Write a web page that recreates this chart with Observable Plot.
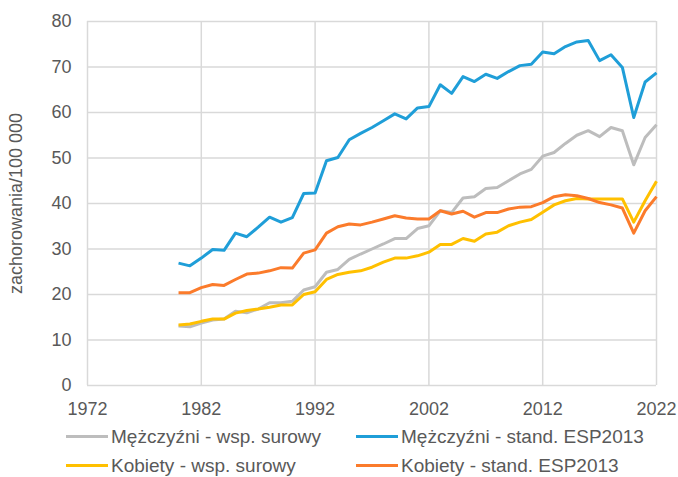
<!DOCTYPE html>
<html>
<head>
<meta charset="utf-8">
<script src="https://cdn.jsdelivr.net/npm/d3@7"></script>
<script src="https://cdn.jsdelivr.net/npm/@observablehq/plot@0.6"></script>
<style>
  html, body { margin: 0; padding: 0; background: #ffffff; }
  body { width: 678px; height: 477px; overflow: hidden; font-family: "Liberation Sans", Arial, sans-serif; }
  #wrap { position: relative; width: 678px; height: 477px; }
  #legend { position: absolute; left: 0; top: 420px; width: 678px; height: 57px; }
  .item { position: absolute; display: flex; align-items: center; font-size: 19px; line-height: 21px; color: #595959; white-space: nowrap; }
  .sw { width: 42px; height: 3px; margin-right: 3px; }
</style>
</head>
<body>
<div id="wrap">
  <div id="chart"></div>
  <div id="legend"></div>
</div>
<script>
const years = [1980,1981,1982,1983,1984,1985,1986,1987,1988,1989,
  1990,1991,1992,1993,1994,1995,1996,1997,1998,1999,
  2000,2001,2002,2003,2004,2005,2006,2007,2008,2009,
  2010,2011,2012,2013,2014,2015,2016,2017,2018,2019,
  2020,2021,2022];

const menCrude = [13.1,12.9,13.7,14.4,14.6,16.3,16.0,16.8,18.2,18.2,
  18.5,21.0,21.7,24.9,25.5,27.7,28.9,30.0,31.1,32.3,
  32.3,34.5,35.1,38.4,38.0,41.2,41.5,43.3,43.5,45.0,
  46.5,47.5,50.4,51.2,53.2,55.0,56.0,54.7,56.7,56.0,
  48.5,54.5,57.3];

const menStd = [26.9,26.3,28.0,29.9,29.7,33.5,32.7,34.8,37.0,35.9,
  36.9,42.2,42.3,49.4,50.1,54.0,55.4,56.7,58.2,59.7,
  58.6,61.0,61.3,66.1,64.2,67.9,66.8,68.4,67.5,69.0,
  70.3,70.6,73.3,72.9,74.5,75.5,75.8,71.4,72.7,69.9,
  58.9,66.7,68.7];

const womenCrude = [13.3,13.5,14.1,14.6,14.6,15.9,16.5,16.8,17.2,17.7,
  17.7,20.0,20.6,23.3,24.4,24.9,25.2,26.0,27.1,28.0,
  28.0,28.5,29.3,31.0,31.0,32.3,31.7,33.3,33.7,35.1,
  35.9,36.5,38.1,39.7,40.6,41.1,41.0,41.0,41.0,41.0,
  35.9,40.6,44.9];

const womenStd = [20.4,20.4,21.5,22.2,22.0,23.3,24.5,24.7,25.2,25.9,
  25.8,29.1,29.8,33.5,34.9,35.5,35.3,35.9,36.6,37.3,
  36.8,36.6,36.6,38.4,37.7,38.3,37.0,38.0,38.0,38.8,
  39.2,39.3,40.2,41.5,41.9,41.7,41.1,40.2,39.7,39.0,
  33.5,38.4,41.5];

const seriesNames = ["Mężczyźni - wsp. surowy", "Mężczyźni - stand. ESP2013", "Kobiety - wsp. surowy", "Kobiety - stand. ESP2013"];
const seriesColors = ["#BDBDBD", "#1F9ED8", "#FFC000", "#FB7B2B"];
const xTicks = [1972, 1982, 1992, 2002, 2012, 2022];
const yTicks = [0, 10, 20, 30, 40, 50, 60, 70, 80];
const yLabel = "zachorowania/100 000";

const seriesValues = [menCrude, menStd, womenCrude, womenStd];
const data = [];
seriesValues.forEach((vals, s) => {
  vals.forEach((v, i) => data.push({year: years[i], value: v, series: seriesNames[s]}));
});

const chart = Plot.plot({
  width: 678,
  height: 420,
  marginLeft: 87,
  marginRight: 22,
  marginTop: 21,
  marginBottom: 35,
  style: { fontFamily: "Liberation Sans, Arial, sans-serif", fontSize: "18px", color: "#595959", background: "#ffffff" },
  x: { domain: [1972, 2022] },
  y: { domain: [0, 80] },
  color: { domain: seriesNames, range: seriesColors },
  marks: [
    Plot.gridX(xTicks, { stroke: "#D9D9D9", strokeOpacity: 1, strokeWidth: 1.5 }),
    Plot.gridY(yTicks, { stroke: "#D9D9D9", strokeOpacity: 1, strokeWidth: 1.5 }),
    Plot.axisX(xTicks, { tickSize: 0, tickPadding: 17, tickFormat: d => String(d), label: null, fill: "#595959" }),
    Plot.axisY(yTicks, { tickSize: 0, tickPadding: 16, label: yLabel, labelAnchor: "center", labelArrow: "none", labelOffset: 78, fill: "#595959" }),
    Plot.line(data, { x: "year", y: "value", z: "series", stroke: "series", strokeWidth: 3, strokeLinejoin: "round", strokeLinecap: "butt" })
  ]
});
document.getElementById("chart").appendChild(chart);

const legend = document.getElementById("legend");
const positions = [[66, 16], [356, 16], [66, 45], [356, 45]];
seriesNames.forEach((name, i) => {
  const item = document.createElement("div");
  item.className = "item";
  item.style.left = positions[i][0] + "px";
  item.style.top = (positions[i][1] - 11) + "px";
  item.style.height = "22px";
  const sw = document.createElement("span");
  sw.className = "sw";
  sw.style.background = seriesColors[i];
  item.appendChild(sw);
  const t = document.createElement("span");
  t.textContent = name;
  item.appendChild(t);
  legend.appendChild(item);
});
</script>
</body>
</html>
